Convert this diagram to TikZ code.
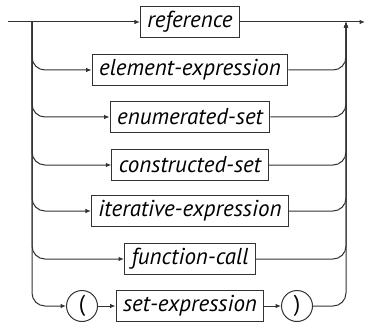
\documentclass[tikz,border=0pt]{standalone}
\usepackage{fontspec}
\setsansfont{PT Sans}
\usetikzlibrary{arrows.meta}

\begin{document}
\begin{tikzpicture}[x=1pt,y=-1pt,line width=1pt,draw=black!80,
	nt/.style={draw,minimum height=31pt,inner xsep=7pt,inner ysep=0pt,font=\sffamily\itshape\fontsize{23}{26}\selectfont},
	tm/.style={draw,circle,minimum size=31pt,inner sep=0pt,font=\sffamily\fontsize{23}{26}\selectfont},
	>={Latex[length=5.5pt,width=4.5pt]}]
\useasboundingbox (0,0) rectangle (366,323);
\node[nt] (ref) at (190,22) {reference};
\node[nt] (ele) at (190,70) {element-expression};
\node[nt] (enu) at (190,117) {enumerated-set};
\node[nt] (con) at (190,165) {constructed-set};
\node[nt] (ite) at (190,211) {iterative-expression};
\node[nt] (fun) at (190,259) {function-call};
\node[nt] (se) at (190,306) {set-expression};
\node[tm] (lp) at (82,306) {(};
\node[tm] (rp) at (297,306) {)};
\coordinate (in) at (8,22);
\coordinate (out) at (365,22);
\coordinate (l) at (32,22);
\coordinate (r) at (346,22);
% main line
\draw[->] (in) -- (ref);
\draw[->] (ref) -- (out);
% branches
\foreach \n in {ele,enu,con,ite,fun,lp}
	\draw[->,rounded corners=13pt] (l) |- (\n);
\foreach \n in {ele,enu,con,ite,fun,rp}
	\draw[->,rounded corners=13pt] (\n) -| (r);
\draw[->] (lp) -- (se);
\draw[->] (se) -- (rp);
\end{tikzpicture}
\end{document}
